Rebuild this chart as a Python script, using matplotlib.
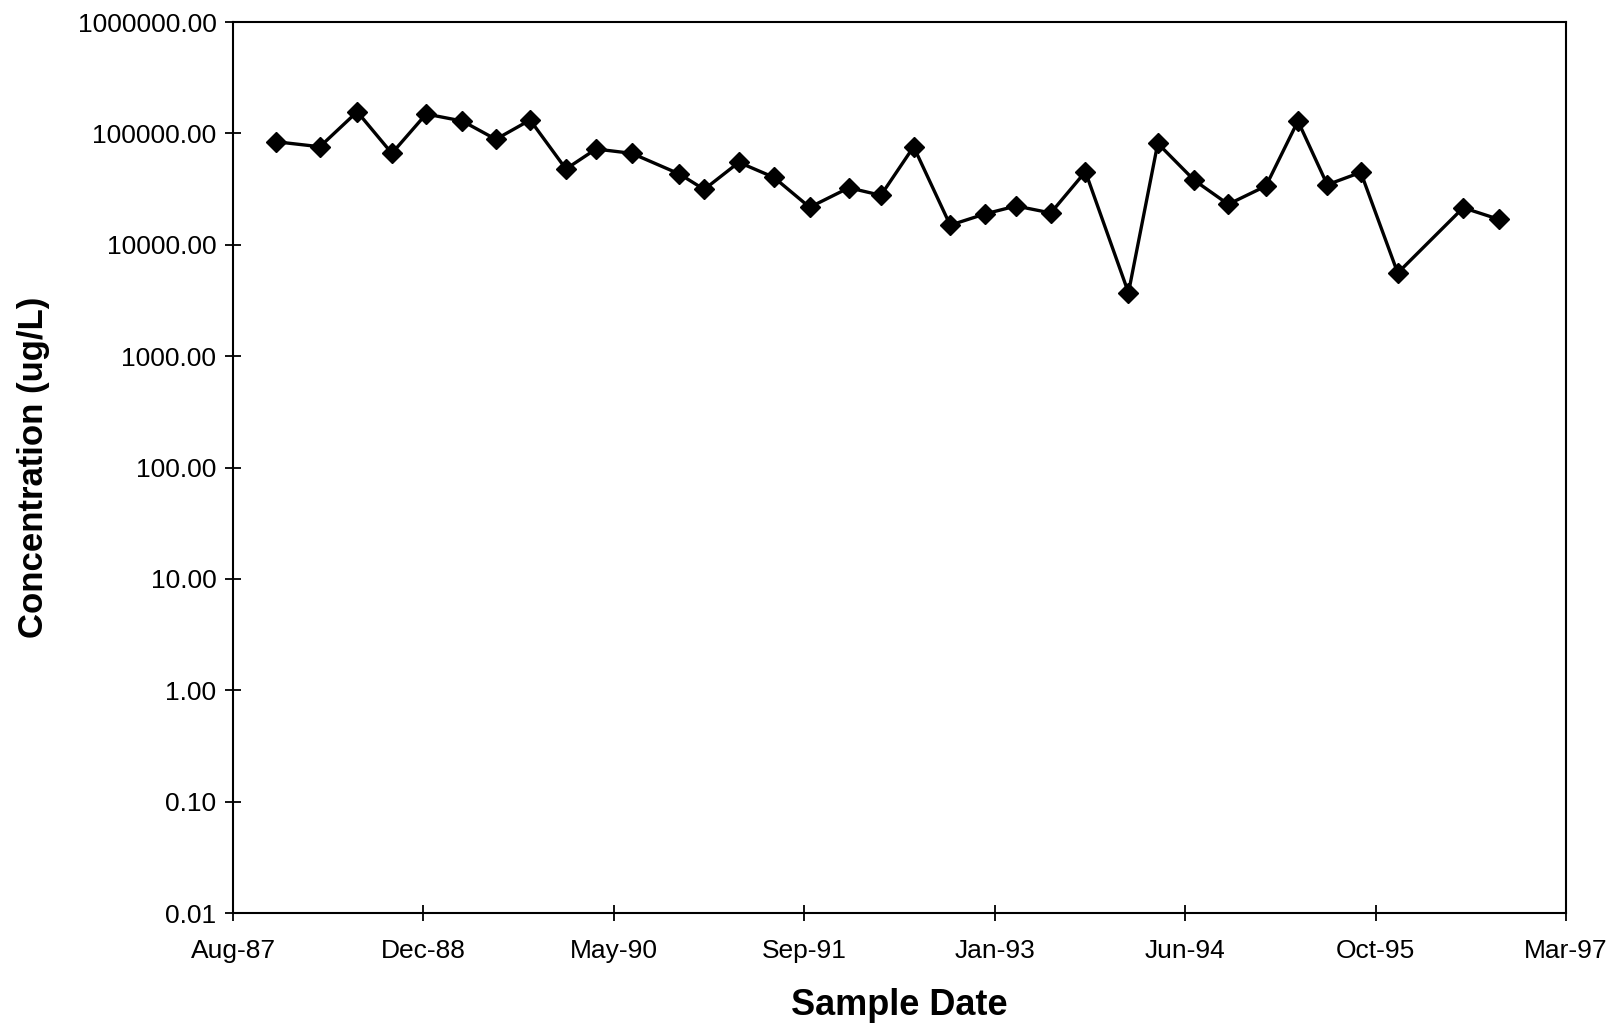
import numpy as np
import matplotlib
matplotlib.use("Agg")
import matplotlib.pyplot as plt
import matplotlib.dates as mdates
from matplotlib.ticker import FuncFormatter, LogLocator, NullLocator

# sample dates and concentrations (ug/L)
datas = [
    "1987-11-30", "1988-03-25", "1988-07-01", "1988-09-30", "1988-12-29",
    "1989-04-03", "1989-06-30", "1989-09-28", "1989-12-31", "1990-03-20",
    "1990-06-22", "1990-10-25", "1990-12-29", "1991-03-30", "1991-06-30",
    "1991-10-02", "1992-01-13", "1992-04-06", "1992-07-01", "1992-10-05",
    "1993-01-04", "1993-03-27", "1993-06-26", "1993-09-25", "1994-01-16",
    "1994-04-03", "1994-07-08", "1994-10-05", "1995-01-12", "1995-04-06",
    "1995-06-22", "1995-09-18", "1995-12-24", "1996-06-13", "1996-09-15",
]
concentracao = [
    84200, 75900, 156500, 66200, 149300,
    129100, 88500, 131900, 47900, 72400,
    66200, 43200, 31400, 55000, 40300,
    21700, 32500, 27800, 75900, 15000,
    18900, 22300, 19300, 45300, 3710,
    81400, 37900, 23100, 33700, 129100,
    34600, 44700, 5580, 21500, 16900,
]

inicio_eixo = "1987-08-10"   # Aug-87
passo_dias = 500             # Excel major unit
n_passos = 7

datas = np.array(datas, dtype="datetime64[D]")
inicio = np.datetime64(inicio_eixo)
ticks_x = inicio + np.arange(n_passos + 1) * passo_dias

plt.rcParams["font.family"] = ["Liberation Sans", "DejaVu Sans"]

fig = plt.figure(figsize=(16.15, 10.29), dpi=100)
ax = fig.add_axes([0.1443, 0.1127, 0.8254, 0.8659])

ax.plot(datas, concentracao, color="black", linewidth=2.4,
        marker="D", markersize=10.5, markerfacecolor="black", markeredgecolor="black")

ax.set_yscale("log")
ax.set_ylim(0.01, 1000000)
ax.yaxis.set_major_locator(LogLocator(base=10, numticks=20))
ax.yaxis.set_minor_locator(NullLocator())
ax.yaxis.set_major_formatter(FuncFormatter(lambda v, p: f"{v:.2f}"))

ax.set_xlim(ticks_x[0], ticks_x[-1])
ax.set_xticks(ticks_x)
ax.xaxis.set_major_formatter(mdates.DateFormatter("%b-%y"))

for s in ax.spines.values():
    s.set_linewidth(1.5)
    s.set_color("black")

ax.tick_params(axis="both", direction="inout", length=12, width=1.3,
               labelsize=19, colors="black")
ax.tick_params(axis="x", pad=13)
ax.tick_params(axis="y", pad=6)

ax.set_xlabel("Sample Date", fontsize=26, fontweight="bold", labelpad=18)
ax.set_ylabel("Concentration (ug/L)", fontsize=25, fontweight="bold", labelpad=20)

fig.savefig("out.png", dpi=100, facecolor="white")
